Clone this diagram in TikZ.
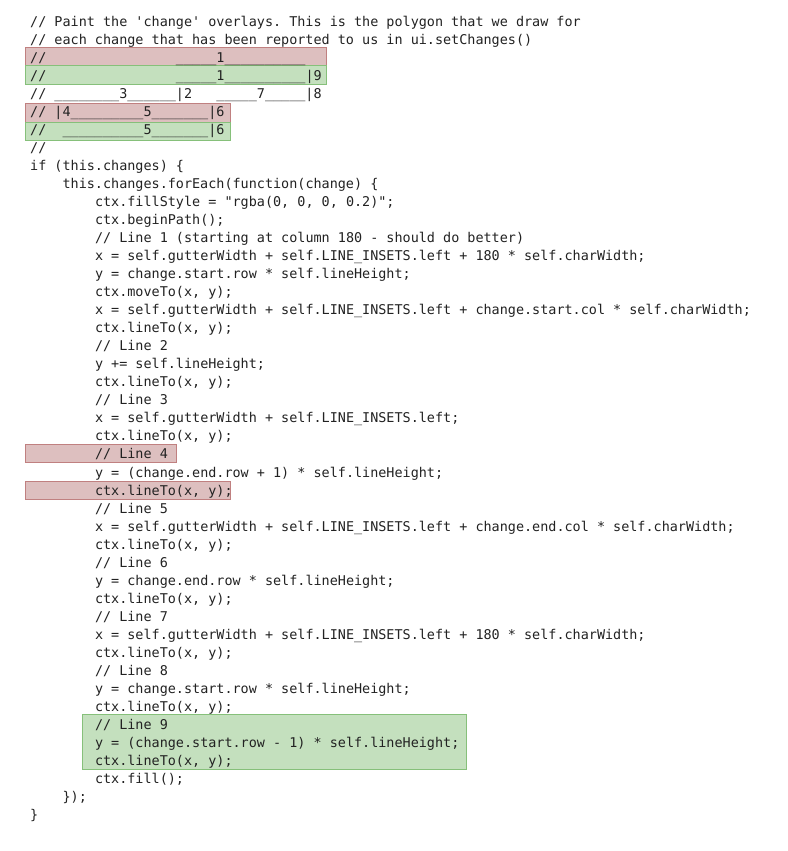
\documentclass[tikz,border=0pt]{standalone}
\usepackage{fontspec}
\setmonofont{DejaVu Sans Mono}
\usepackage{xcolor}
\usetikzlibrary{positioning}
\definecolor{hlredfill}{HTML}{DDBFBF}
\definecolor{hlreddraw}{HTML}{C08080}
\definecolor{hlgreenfill}{HTML}{C4E0BE}
\definecolor{hlgreendraw}{HTML}{86C07A}
\definecolor{codetext}{HTML}{222222}
\newcommand{\sk}[1]{\hspace*{#1\dimexpr 8.1pt\relax}}
% one line of code: number, indent (chars), text
\newcommand{\cl}[3]{\node[code] (l#1) at ({30+8.1*#2},{26.5+18.02*(#1-1)}) {#3};}
\begin{document}
\begin{tikzpicture}[x=1pt, y=-1pt,
    code/.style={anchor=base west, inner sep=0pt, font=\fontsize{13.45}{16}\ttfamily, text=codetext},
    hlred/.style={fill=hlredfill, draw=hlreddraw, line width=1pt},
    hlgreen/.style={fill=hlgreenfill, draw=hlgreendraw, line width=1pt}
]
\useasboundingbox (0,0) rectangle (787,851);
\fill[white] (0,0) rectangle (787,851);

% highlighted regions
\draw[hlred] (25.5,47.5) rectangle (326,66);
\draw[hlgreen] (25.5,66) rectangle (326,84);
\draw[hlred] (25.5,103.5) rectangle (230.5,122);
\draw[hlgreen] (25.5,122) rectangle (230.5,140);
\draw[hlred] (25.5,444.5) rectangle (176.5,462);
\draw[hlred] (25.5,481.5) rectangle (230.5,499);
\draw[hlgreen] (82.5,714.5) rectangle (466,769);

% the listing
\cl{1}{0}{// Paint the 'change' overlays. This is the polygon that we draw for}
\cl{2}{0}{// each change that has been reported to us in ui.setChanges()}
\cl{3}{0}{//\sk{16}\_\_\_\_\_1\_\_\_\_\_\_\_\_\_\_}
\cl{4}{0}{//\sk{16}\_\_\_\_\_1\_\_\_\_\_\_\_\_\_\_|9}
\cl{5}{0}{//\sk{1}\_\_\_\_\_\_\_\_3\_\_\_\_\_\_|2\sk{3}\_\_\_\_\_7\_\_\_\_\_|8}
\cl{6}{0}{//\sk{1}|4\_\_\_\_\_\_\_\_\_5\_\_\_\_\_\_\_|6}
\cl{7}{0}{//\sk{2}\_\_\_\_\_\_\_\_\_\_5\_\_\_\_\_\_\_|6}
\cl{8}{0}{//}
\cl{9}{0}{if (this.changes) \{}
\cl{10}{4}{this.changes.forEach(function(change) \{}
\cl{11}{8}{ctx.fillStyle = "rgba(0, 0, 0, 0.2)";}
\cl{12}{8}{ctx.beginPath();}
\cl{13}{8}{// Line 1 (starting at column 180 - should do better)}
\cl{14}{8}{x = self.gutterWidth + self.LINE\_INSETS.left + 180 * self.charWidth;}
\cl{15}{8}{y = change.start.row * self.lineHeight;}
\cl{16}{8}{ctx.moveTo(x, y);}
\cl{17}{8}{x = self.gutterWidth + self.LINE\_INSETS.left + change.start.col * self.charWidth;}
\cl{18}{8}{ctx.lineTo(x, y);}
\cl{19}{8}{// Line 2}
\cl{20}{8}{y += self.lineHeight;}
\cl{21}{8}{ctx.lineTo(x, y);}
\cl{22}{8}{// Line 3}
\cl{23}{8}{x = self.gutterWidth + self.LINE\_INSETS.left;}
\cl{24}{8}{ctx.lineTo(x, y);}
\cl{25}{8}{// Line 4}
\cl{26}{8}{y = (change.end.row + 1) * self.lineHeight;}
\cl{27}{8}{ctx.lineTo(x, y);}
\cl{28}{8}{// Line 5}
\cl{29}{8}{x = self.gutterWidth + self.LINE\_INSETS.left + change.end.col * self.charWidth;}
\cl{30}{8}{ctx.lineTo(x, y);}
\cl{31}{8}{// Line 6}
\cl{32}{8}{y = change.end.row * self.lineHeight;}
\cl{33}{8}{ctx.lineTo(x, y);}
\cl{34}{8}{// Line 7}
\cl{35}{8}{x = self.gutterWidth + self.LINE\_INSETS.left + 180 * self.charWidth;}
\cl{36}{8}{ctx.lineTo(x, y);}
\cl{37}{8}{// Line 8}
\cl{38}{8}{y = change.start.row * self.lineHeight;}
\cl{39}{8}{ctx.lineTo(x, y);}
\cl{40}{8}{// Line 9}
\cl{41}{8}{y = (change.start.row - 1) * self.lineHeight;}
\cl{42}{8}{ctx.lineTo(x, y);}
\cl{43}{8}{ctx.fill();}
\cl{44}{4}{\});}
\cl{45}{0}{\}}
\end{tikzpicture}
\end{document}
